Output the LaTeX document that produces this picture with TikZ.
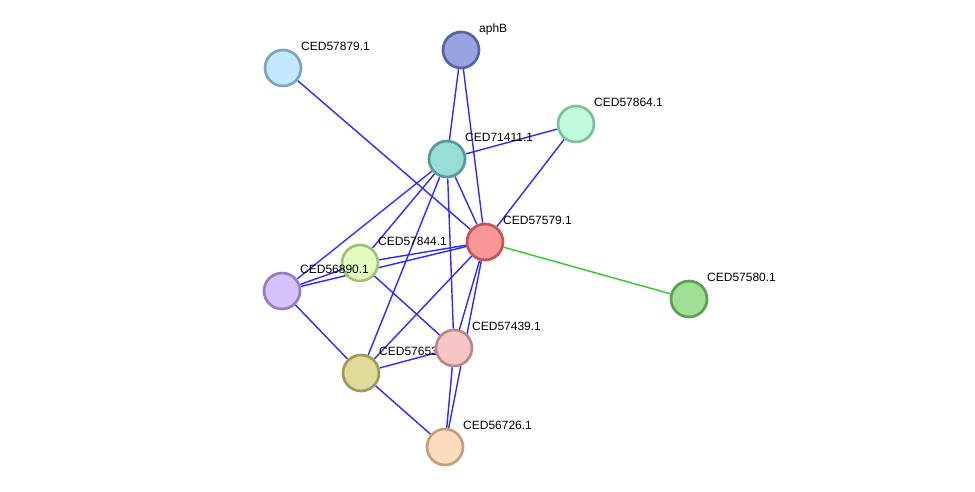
\documentclass[tikz,border=0pt]{standalone}
\usepackage{fontspec}
\setmainfont{Liberation Sans}
\usepackage{xcolor}
\usepackage{tikz}
\usetikzlibrary{positioning,calc,backgrounds}

\definecolor{cooc}{HTML}{2B2BFF}
\definecolor{nbhd}{HTML}{33C633}

\begin{document}
\begin{tikzpicture}[
  x=1pt,y=1pt,
  every node/.style={font=\fontsize{12}{14}\selectfont},
  prot/.style={circle,draw,line width=2.7pt,minimum size=36pt,inner sep=0pt},
  lbl/.style={anchor=base west,inner sep=0pt,text=black},
  link/.style={draw=cooc,line width=1.4pt},
  nlink/.style={draw=nbhd,line width=1.4pt}
]
\useasboundingbox (0,0) rectangle (975,492);

% proteins, each with its name
\node[prot,fill={rgb,255:red,195;green,232;blue,252},draw={rgb,255:red,122;green,164;blue,192}] (n57879) at (283,424) {};
\node[lbl] (l57879) at ([shift={(18,17)}]n57879.center) {CED57879.1};
\node[prot,fill={rgb,255:red,152;green,163;blue,224},draw={rgb,255:red,88;green,99;blue,160}] (naphB) at (461,442) {};
\node[lbl] (laphB) at ([shift={(18,17)}]naphB.center) {aphB};
\node[prot,fill={rgb,255:red,194;green,251;blue,220},draw={rgb,255:red,124;green,192;blue,154}] (n57864) at (576,368) {};
\node[lbl] (l57864) at ([shift={(18,17)}]n57864.center) {CED57864.1};
\node[prot,fill={rgb,255:red,152;green,222;blue,214},draw={rgb,255:red,88;green,154;blue,147}] (n71411) at (447,333) {};
\node[lbl] (l71411) at ([shift={(18,17)}]n71411.center) {CED71411.1};
\node[prot,fill={rgb,255:red,251;green,150;blue,150},draw={rgb,255:red,192;green,86;blue,86}] (n57579) at (485,250) {};
\node[lbl] (l57579) at ([shift={(18,17)}]n57579.center) {CED57579.1};
\node[prot,fill={rgb,255:red,226;green,251;blue,191},draw={rgb,255:red,164;green,192;blue,126}] (n57844) at (360,229) {};
\node[lbl] (l57844) at ([shift={(18,17)}]n57844.center) {CED57844.1};
\node[prot,fill={rgb,255:red,214;green,195;blue,252},draw={rgb,255:red,148;green,128;blue,191}] (n56890) at (282,201) {};
\node[lbl] (l56890) at ([shift={(18,17)}]n56890.center) {CED56890.1};
\node[prot,fill={rgb,255:red,159;green,224;blue,149},draw={rgb,255:red,95;green,158;blue,86}] (n57580) at (689,193) {};
\node[lbl] (l57580) at ([shift={(18,17)}]n57580.center) {CED57580.1};
\node[prot,fill={rgb,255:red,222;green,220;blue,152},draw={rgb,255:red,158;green,154;blue,88}] (n57653) at (361,119) {};
\node[lbl] (l57653) at ([shift={(18,17)}]n57653.center) {CED57653.1};
\node[prot,fill={rgb,255:red,247;green,197;blue,197},draw={rgb,255:red,187;green,136;blue,136}] (n57439) at (454,144) {};
\node[lbl] (l57439) at ([shift={(18,17)}]n57439.center) {CED57439.1};
\node[prot,fill={rgb,255:red,253;green,220;blue,190},draw={rgb,255:red,192;green,160;blue,128}] (n56726) at (445,45) {};
\node[lbl] (l56726) at ([shift={(18,17)}]n56726.center) {CED56726.1};

% edges, under the proteins
\begin{scope}[on background layer]
\draw[link] (n57879)--(n57579);
\draw[link] (naphB)--(n71411);
\draw[link] (naphB)--(n57579);
\draw[link] (n57864)--(n71411);
\draw[link] (n57864)--(n57579);
\draw[link] (n71411)--(n57579);
\draw[link] (n71411)--(n57844);
\draw[link] (n71411)--(n56890);
\draw[link] (n71411)--(n57653);
\draw[link] (n71411)--(n57439);
\draw[link] (n57579)--(n57844);
\draw[link] (n57579.center)--(n56890);
\draw[link] (n57844)--(n56890);
\draw[link] (n57579)--(n57653);
\draw[link] (n57579)--(n57439.center);
\draw[link] (n57579)--(n56726);
\draw[nlink] (n57579)--(n57580);
\draw[link] (n57844)--(n57439);
\draw[link] (n56890)--(n57653);
\draw[link] (n57653)--(n57439);
\draw[link] (n57653)--(n56726);
\draw[link] (n57439)--(n56726);
\end{scope}
\end{tikzpicture}
\end{document}
